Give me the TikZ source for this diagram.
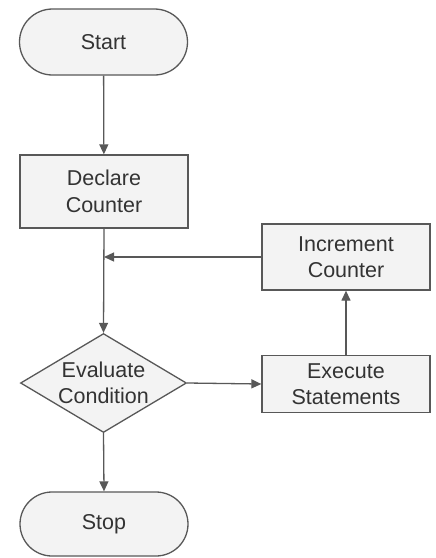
\documentclass[tikz,border=0pt]{standalone}
\usepackage{fontspec}
\setmainfont{Liberation Sans}
\usetikzlibrary{shapes.misc,shapes.geometric,arrows.meta}
\definecolor{edgegray}{HTML}{585858}
\definecolor{fillgray}{HTML}{F3F3F3}
\definecolor{textgray}{HTML}{333333}
\tikzset{
  base/.style={draw=edgegray, line width=1.3pt, fill=fillgray, text=textgray,
    font=\fontsize{21.5}{26.5}\selectfont, align=center, inner sep=0pt},
  terminal/.style={base, rounded rectangle, minimum width=168pt, minimum height=66pt},
  process/.style={base, rectangle, minimum width=168pt, minimum height=70pt},
  decision/.style={base, diamond, aspect=1.68, minimum width=166pt, minimum height=99pt},
  flow/.style={draw=edgegray, line width=1.3pt, -{Triangle[length=10pt,width=9pt]}},
  line/.style={draw=edgegray, line width=1.3pt}
}
\begin{document}
\begin{tikzpicture}[x=1pt,y=-1pt]
  \useasboundingbox (0,0) rectangle (436,558);
  \node[terminal] (start) at (103.5,42) {Start};
  \node[process, minimum height=73pt] (declare) at (104,191.5) {Declare\\Counter};
  \node[decision] (cond) at (103.5,383) {Evaluate\\Condition};
  \node[process, minimum height=66pt] (incr) at (346,257) {Increment\\Counter};
  \node[process, minimum height=57pt] (exec) at (346,384) {Execute\\Statements};
  \node[terminal, minimum height=64pt] (stop) at (104,524) {Stop};
  \coordinate (join) at (declare.south |- incr.west);

  \draw[flow] (start) -- (declare);
  \draw[flow] (declare.south) -- (cond.north);
  \draw[flow] (incr.west) -- (join);
  \draw[flow] (cond.east) -- (exec.west);
  \draw[flow] (exec.north) -- (incr.south);
  \draw[flow] (cond.south) -- (stop.north);
\end{tikzpicture}
\end{document}
